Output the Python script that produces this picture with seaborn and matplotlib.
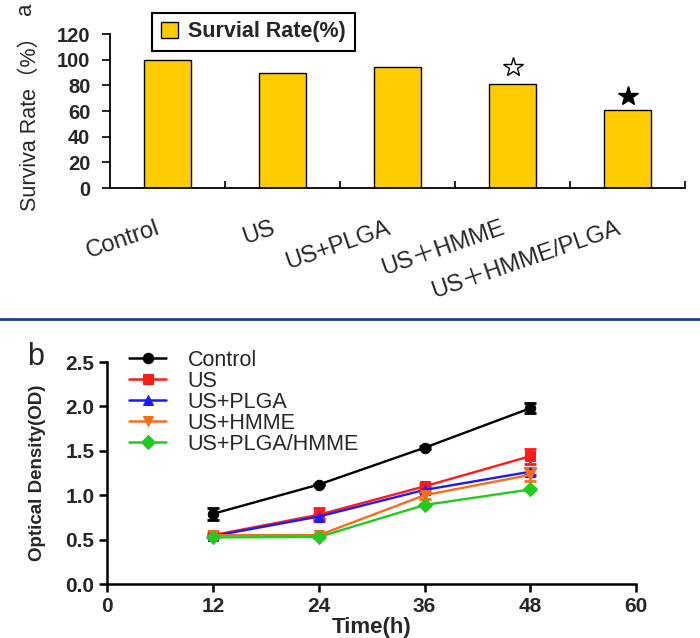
import numpy as np
import pandas as pd
import matplotlib
matplotlib.use('Agg')
import matplotlib.pyplot as plt
from matplotlib.patches import Patch
from matplotlib.lines import Line2D
from matplotlib.transforms import ScaledTranslation
import seaborn as sns

sns.set_theme(style='ticks')
plt.rcParams['font.family'] = ['Liberation Sans', 'Noto Sans CJK SC', 'DejaVu Sans']
plt.rcParams['axes.unicode_minus'] = False

#### data - panel a (survival rate)
groups_a = ['Control', 'US', 'US+PLGA', 'US＋HMME', 'US＋HMME/PLGA']
survival = [100, 90, 94, 81, 61]
star_y = [None, None, None, 94, 72]
star_fill = [None, None, None, 'white', 'black']

#### data - panel b (optical density)
times = [12, 24, 36, 48]
groups_b = ['Control', 'US', 'US+PLGA', 'US+HMME', 'US+PLGA/HMME']
od_control = [0.79, 1.12, 1.535, 1.98]
od_us = [0.55, 0.78, 1.10, 1.44]
od_us_plga = [0.54, 0.76, 1.06, 1.265]
od_us_hmme = [0.55, 0.55, 1.00, 1.23]
od_us_plga_hmme = [0.525, 0.53, 0.89, 1.065]
sd_control = [0.065, 0.01, 0.015, 0.055]
sd_us = [0.02, 0.075, 0.03, 0.085]
sd_us_plga = [0.01, 0.03, 0.03, 0.04]
sd_us_hmme = [0.01, 0.01, 0.04, 0.075]
sd_us_plga_hmme = [0.01, 0.01, 0.01, 0.01]

colors_b = ['black', '#ff1a1a', '#1a1aff', '#ff6a1a', '#1fcc1f']
markers_b = ['o', 's', '^', 'v', 'D']
od_all = [od_control, od_us, od_us_plga, od_us_hmme, od_us_plga_hmme]
sd_all = [sd_control, sd_us, sd_us_plga, sd_us_hmme, sd_us_plga_hmme]

fig = plt.figure(figsize=(7, 6.38), dpi=100)

#### 1. bar chart ###########################################################
ax1 = fig.add_axes([0.157, 0.7053, 0.822, 0.2414])
sns.barplot(x=groups_a, y=survival, color='#FFCC00', saturation=1, width=0.41,
            edgecolor='black', linewidth=1, ax=ax1)
for i, (sy, fc) in enumerate(zip(star_y, star_fill)):
    if sy is not None:
        ax1.plot(i, sy, marker='*', ms=15, mfc=fc, mec='black', mew=1, ls='none')

ax1.set_xlim(-0.5, 4.5)
ax1.set_ylim(0, 120)
ax1.set_yticks(np.arange(0, 121, 20))
ax1.set_xticks(np.arange(0.5, 5, 1), minor=True)
ax1.tick_params(axis='x', which='major', length=0, pad=21, labelsize=17)
ax1.tick_params(axis='x', which='minor', direction='in', length=5, width=1.2, color='black')
ax1.tick_params(axis='y', direction='out', length=6, width=1.2, color='black', pad=8, labelsize=14.5)
for lbl in ax1.get_yticklabels():
    lbl.set_fontweight('bold')
for lbl in ax1.get_xticklabels():
    lbl.set_rotation(19)
    lbl.set_ha('right')
    lbl.set_va('top')
    lbl.set_rotation_mode('anchor')
    lbl.set_transform(lbl.get_transform() + ScaledTranslation(-0.12, 0, fig.dpi_scale_trans))
sns.despine(ax=ax1)
for sp in ['left', 'bottom']:
    ax1.spines[sp].set_linewidth(1.3)
    ax1.spines[sp].set_color('black')
ax1.set_xlabel('')
ax1.set_ylabel('Surviva Rate（%）', fontsize=15.5)
ax1.yaxis.set_label_coords(-0.12, 0.45)

fig.legend(handles=[Patch(facecolor='#FFCC00', edgecolor='black', linewidth=1)],
           labels=['Survial Rate(%)'], loc='upper left',
           bbox_to_anchor=(0.217, 0.98), borderaxespad=0, fancybox=False,
           edgecolor='black', framealpha=1, handlelength=0.8, handleheight=0.8,
           handletextpad=0.5, prop={'weight': 'bold', 'size': 15.5})
fig.legends[-1].get_frame().set_linewidth(1.5)

fig.text(26 / 700, 1 - 9 / 638, 'a', rotation=90, fontsize=16, ha='center', va='center')

# separator line between the two panels
fig.add_artist(Line2D([0, 1], [0.5, 0.5], color='#1f3a9a', lw=2))

#### 2. line chart ###########################################################
rows = []
for g, vals in zip(groups_b, od_all):
    for t, v in zip(times, vals):
        rows.append({'time': t, 'od': v, 'group': g})
df = pd.DataFrame(rows)

ax2 = fig.add_axes([0.153, 0.0846, 0.756, 0.348])
sns.lineplot(data=df, x='time', y='od', hue='group', style='group',
             hue_order=groups_b, style_order=groups_b,
             palette=dict(zip(groups_b, colors_b)),
             markers=dict(zip(groups_b, markers_b)), dashes=False,
             markersize=7.5, linewidth=1.7, errorbar=None, ax=ax2)
for ln in ax2.lines:
    ln.set_markeredgecolor(ln.get_color())
for g, c, vals, sd in zip(groups_b, colors_b, od_all, sd_all):
    ax2.errorbar(times, vals, yerr=sd, fmt='none', ecolor=c, elinewidth=2,
                 capsize=4.5, capthick=2, zorder=1.5)

ax2.set_xlim(0, 60)
ax2.set_ylim(0, 2.5)
ax2.set_xticks(np.arange(0, 61, 12))
ax2.set_yticks(np.arange(0, 2.51, 0.5))
ax2.set_yticklabels([f'{v:.1f}' for v in np.arange(0, 2.51, 0.5)])
ax2.tick_params(direction='out', length=6, width=1.8, color='black', labelsize=15, pad=3)
for lbl in ax2.get_xticklabels() + ax2.get_yticklabels():
    lbl.set_fontweight('bold')
sns.despine(ax=ax2)
for sp in ['left', 'bottom']:
    ax2.spines[sp].set_linewidth(1.8)
    ax2.spines[sp].set_color('black')
ax2.set_xlabel('Time(h)', fontsize=16, fontweight='bold', labelpad=1)
ax2.set_ylabel('Optical Density(OD)', fontsize=13.5, fontweight='bold')
ax2.yaxis.set_label_coords(-0.115, 0.5)

handles, labels = ax2.get_legend_handles_labels()
leg = ax2.legend(handles, labels, loc='upper left', bbox_to_anchor=(0.042, 1.055),
                 frameon=False, borderpad=0, borderaxespad=0, fontsize=15.5,
                 handlelength=1.7, handletextpad=1.0, labelspacing=0.0)
for h in leg.legend_handles:
    h.set_markeredgecolor(h.get_color())
    h.set_linewidth(1.8)

fig.text(36 / 700, 1 - 357 / 638, 'b', fontsize=22, ha='center', va='center')

plt.savefig('out.png', dpi=100)
